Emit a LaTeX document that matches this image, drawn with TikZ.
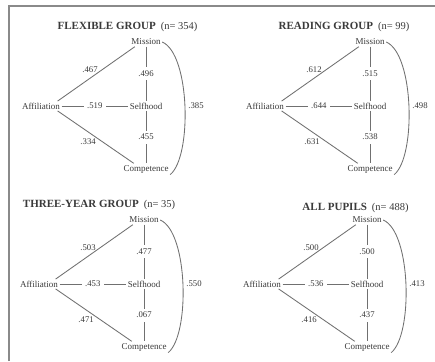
\documentclass[tikz,border=0pt]{standalone}
\usepackage{fontspec}
\setmainfont{Liberation Serif}
\definecolor{txt}{HTML}{3A3A3A}
\definecolor{lncol}{HTML}{707070}
\definecolor{framecol}{HTML}{8A8A8A}
\tikzset{
  vx/.style={inner sep=1.5pt, text=txt, font=\fontsize{9}{10}\selectfont},
  num/.style={inner sep=1pt, text=txt, font=\fontsize{8.7}{10}\selectfont},
  inl/.style={num, fill=white, inner sep=3.5pt},
  ttl/.style={inner sep=0pt, text=txt},
  ln/.style={draw=lncol, line width=0.85pt},
  framestyle/.style={draw=framecol, line width=1.4pt}
}
\newcommand\grp[9]{%
  \begin{scope}[shift={(#1,#2)}, name prefix=#3-]
    \node[vx] (m) at (0,0) {Mission};
    \node[vx] (s) at (0,-64) {Selfhood};
    \node[vx] (f) at (-105,-64) {Affiliation};
    \node[vx] (c) at (0,-127) {Competence};
    \draw[ln] ([xshift=-4pt]f.north east) -- node[num, pos=0.42, above=4pt] (la) {#4} ([xshift=5pt]m.south west);
    \draw[ln] (m) -- node[inl] (lb) {#5} (s);
    \draw[ln] (f) -- node[inl] (lc) {#6} (s);
    \draw[ln] (s) -- node[inl] (ld) {#7} (c);
    \draw[ln] ([xshift=-4pt]f.south east) -- node[num, pos=0.4, below=5pt] (le) {#8} ([xshift=12pt]c.north west);
    \draw[ln] (m.east) .. controls +(28,-12) and +(22,18) .. (c.south east)
      node[num, pos=0.5, right=2pt] (lf) {#9};
  \end{scope}}
\begin{document}
\begin{tikzpicture}[x=1pt,y=1pt]
\useasboundingbox (0,0) rectangle (435,361);
\fill[white] (0,0) rectangle (435,361);
\coordinate (fa) at (9,0);
\coordinate (fb) at (9,355);
\coordinate (fc) at (435,355);
\draw[framestyle] (fa) -- (fb) -- (fc);

\grp{146}{319}{p1}{.467}{.496}{.519}{.455}{.334}{.385}
\node[ttl] (t1) at (127.5,334) {\fontsize{11}{13}\selectfont\bfseries FLEXIBLE GROUP\hspace{5pt}\fontsize{10.5}{13}\selectfont\mdseries (n= 354)};

\grp{370}{319}{p2}{.612}{.515}{.644}{.538}{.631}{.498}
\node[ttl] (t2) at (344,334) {\fontsize{11}{13}\selectfont\bfseries READING GROUP\hspace{5pt}\fontsize{10.5}{13}\selectfont\mdseries (n= 99)};

\grp{144}{141}{p3}{.503}{.477}{.453}{.067}{.471}{.550}
\node[ttl] (t3) at (99,156) {\fontsize{11}{13}\selectfont\bfseries THREE-YEAR GROUP\hspace{5pt}\fontsize{10.5}{13}\selectfont\mdseries (n= 35)};

\grp{367}{141}{p4}{.500}{.500}{.536}{.437}{.416}{.413}
\node[ttl] (t4) at (355.5,153) {\fontsize{11}{13}\selectfont\bfseries ALL PUPILS\hspace{5pt}\fontsize{10.5}{13}\selectfont\mdseries (n= 488)};
\end{tikzpicture}
\end{document}
